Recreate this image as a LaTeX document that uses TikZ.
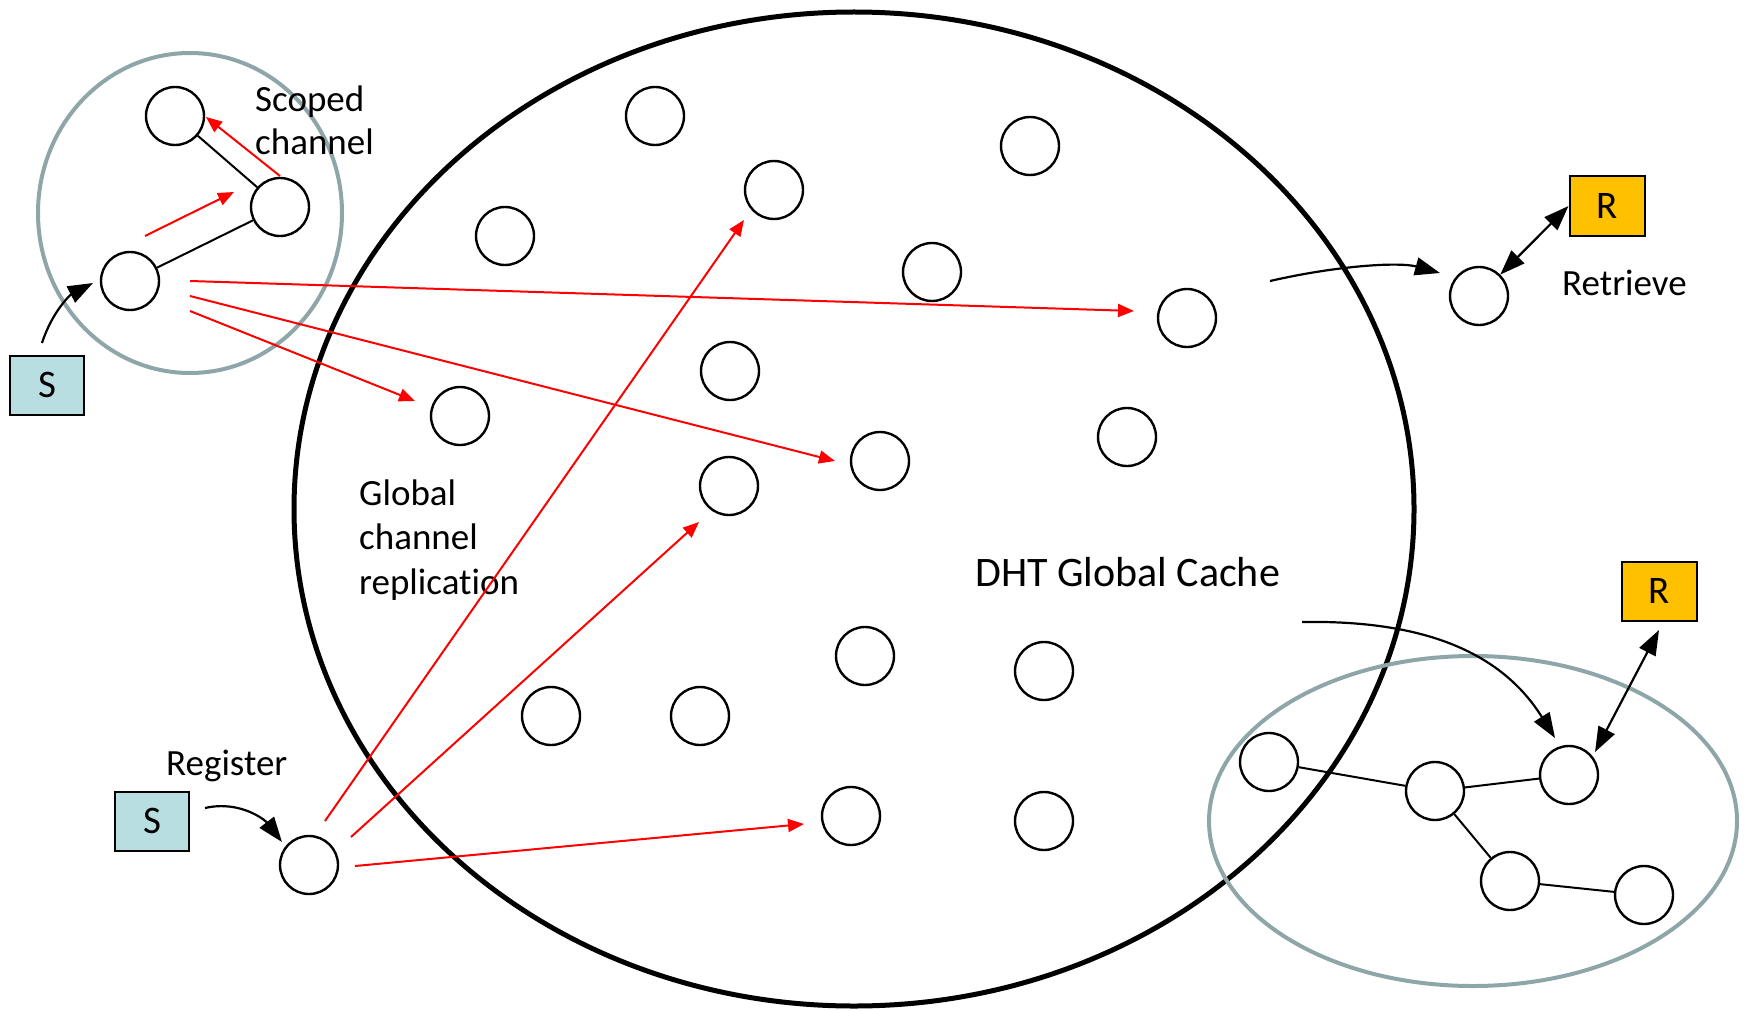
\documentclass[tikz,border=0pt]{standalone}
\usepackage{fontspec}
\setmainfont{Carlito}[Ligatures={CommonOff}]
\usetikzlibrary{arrows.meta,calc}
\definecolor{ringgray}{RGB}{143,166,169}
\definecolor{sblue}{RGB}{184,222,226}
\definecolor{rgold}{RGB}{255,192,0}
\definecolor{redline}{RGB}{255,0,0}
\begin{document}
\begin{tikzpicture}[x=1pt,y=-1pt,
  nd/.style={circle,draw,line width=2.4pt,minimum size=58pt,inner sep=0pt},
  lbl/.style={inner sep=0pt,font=\fontsize{37}{44}\selectfont},
  sbox/.style={draw,line width=2pt,fill=sblue,minimum width=74pt,minimum height=59pt,inner sep=0pt,font=\fontsize{39}{46}\selectfont},
  rbox/.style={draw,line width=2pt,fill=rgold,minimum width=75pt,minimum height=59pt,inner sep=0pt,font=\fontsize{39}{46}\selectfont},
  redarr/.style={draw=redline,line width=2pt,-{Triangle[length=16pt,width=13pt]}},
  blkarr/.style={draw,line width=2.2pt,-{Triangle[length=25pt,width=18pt]}},
  dblarr/.style={draw,line width=2.2pt,{Triangle[length=25pt,width=18pt]}-{Triangle[length=25pt,width=18pt]}},
  edge/.style={draw,line width=2pt},
  ring/.style={draw=ringgray,line width=4pt}
]
\useasboundingbox (0,0) rectangle (1744,1011);

% big ellipse
\draw[line width=5pt] (854,509) ellipse [x radius=560pt, y radius=497pt];
% scoped channel rings
\draw[ring] (190,213) ellipse [x radius=152pt, y radius=160pt];
\draw[ring] (1473,821) ellipse [x radius=264pt, y radius=165pt];

% nodes in global cache
\node[nd] (g1) at (655,116) {};
\node[nd] (g2) at (1030,146) {};
\node[nd] (g3) at (774,190) {};
\node[nd] (g4) at (505,236) {};
\node[nd] (g5) at (932,272) {};
\node[nd] (g6) at (1187,318) {};
\node[nd] (g7) at (730,371) {};
\node[nd] (g8) at (460,416) {};
\node[nd] (g9) at (1127,437) {};
\node[nd] (g10) at (880,461) {};
\node[nd] (g11) at (729,486) {};
\node[nd] (g12) at (865,656) {};
\node[nd] (g13) at (1044,671) {};
\node[nd] (g14) at (551,716) {};
\node[nd] (g15) at (700,716) {};
\node[nd] (g16) at (851,816) {};
\node[nd] (g17) at (1044,821) {};

% top-left scoped channel
\node[nd] (a1) at (175,116) {};
\node[nd] (a2) at (280,207) {};
\node[nd] (a3) at (130,281) {};
\draw[edge] (a1) -- (a2);
\draw[edge] (a2) -- (a3);

% register / retrieve
\node[nd] (reg) at (309,865) {};
\node[nd] (ret) at (1479,296) {};

% bottom-right scoped channel
\node[nd] (b1) at (1269,762) {};
\node[nd] (b2) at (1435,791) {};
\node[nd] (b3) at (1569,775) {};
\node[nd] (b4) at (1510,881) {};
\node[nd] (b5) at (1644,895) {};
\draw[edge] (b1) -- (b2);
\draw[edge] (b2) -- (b3);
\draw[edge] (b2) -- (b4);
\draw[edge] (b4) -- (b5);

% boxes
\node[sbox] (s1) at (47,385) {S};
\node[sbox] (s2) at (152,821) {S};
\node[rbox] (r1) at (1607,206) {R};
\node[rbox] (r2) at (1659,591) {R};

% labels
\node[lbl,anchor=base west] (tsc1) at (255,112) {Scoped};
\node[lbl,anchor=base west] (tsc2) at (255,155) {channel};
\node[lbl,anchor=base west] (tgl1) at (359,505) {Global};
\node[lbl,anchor=base west] (tgl2) at (359,549) {channel};
\node[lbl,anchor=base west] (tgl3) at (359,594) {replication};
\node[lbl,anchor=base west] (treg) at (166,775) {Register};
\node[lbl,anchor=base west] (tret) at (1562,295) {Retrieve};
\node[inner sep=0pt,font=\fontsize{42}{50}\selectfont,anchor=base west] (tdht) at (975,586) {DHT Global Cache};

% free ends of connectors
\coordinate (ra1s) at (145,236); \coordinate (ra1e) at (234,192);
\coordinate (ra2s) at (280,176); \coordinate (ra2e) at (206,117);
\coordinate (rs1) at (190,281); \coordinate (re1) at (1134,311);
\coordinate (rs2) at (190,296); \coordinate (re2) at (835,461);
\coordinate (rs3) at (190,311); \coordinate (re3) at (415,401);
\coordinate (rs4) at (325,821); \coordinate (re4) at (744,220);
\coordinate (rs5) at (351,837); \coordinate (re5) at (699,522);
\coordinate (rs6) at (355,866); \coordinate (re6) at (804,824);
\coordinate (k1s) at (42,343); \coordinate (k1e) at (93,283);
\coordinate (k2s) at (205,808); \coordinate (k2e) at (282,842);
\coordinate (k3s) at (1270,281); \coordinate (k3e) at (1440,273);
\coordinate (k4s) at (1302,622); \coordinate (k4e) at (1555,738);
\coordinate (d2s) at (1659,630); \coordinate (d2e) at (1595,752);

% red arrows
\draw[redarr] (ra1s) -- (ra1e);
\draw[redarr] (ra2s) -- (ra2e);
\draw[redarr] (rs1) -- (re1);
\draw[redarr] (rs2) -- (re2);
\draw[redarr] (rs3) -- (re3);
\draw[redarr] (rs4) -- (re4);
\draw[redarr] (rs5) -- (re5);
\draw[redarr] (rs6) -- (re6);

% black arrows
\draw[blkarr] (k1s) .. controls (52,312) and (70,295) .. (k1e);
\draw[blkarr] (k2s) .. controls (240,800) and (265,820) .. (k2e);
\draw[blkarr] (k3s) .. controls (1340,265) and (1400,262) .. (k3e);
\draw[blkarr] (k4s) .. controls (1420,620) and (1500,650) .. (k4e);
\draw[dblarr] (r1.west) -- (ret);
\draw[dblarr] (d2s) -- (d2e);
\end{tikzpicture}
\end{document}
